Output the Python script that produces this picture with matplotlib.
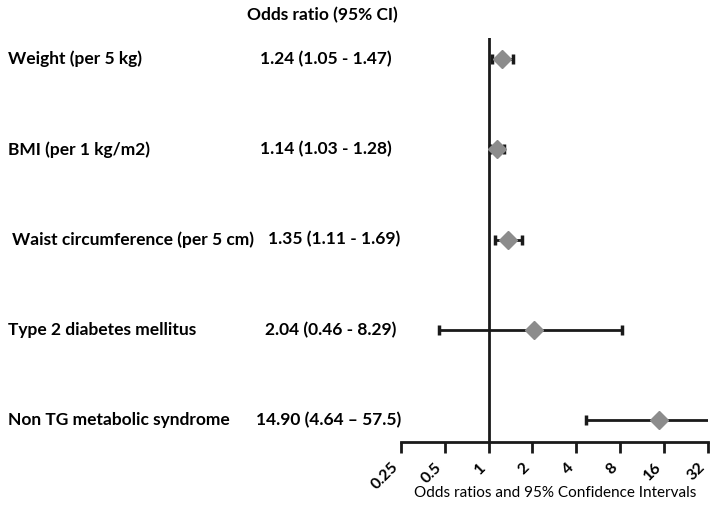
import matplotlib
matplotlib.use("Agg")
import matplotlib.pyplot as plt
import matplotlib.transforms as mtransforms
import numpy as np

plt.rcParams['font.family'] = ['Lato', 'DejaVu Sans']

# forest plot data
labels = ["Weight (per 5 kg)", "BMI (per 1 kg/m2)", "Waist circumference (per 5 cm)",
          "Type 2 diabetes mellitus", "Non TG metabolic syndrome"]
or_text = ["1.24 (1.05 - 1.47)", "1.14 (1.03 - 1.28)", "1.35 (1.11 - 1.69)",
           "2.04 (0.46 - 8.29)", "14.90 (4.64 \u2013 57.5)"]
odds = [1.24, 1.14, 1.35, 2.04, 14.90]
lower = [1.05, 1.03, 1.11, 0.46, 4.64]
upper = [1.47, 1.28, 1.69, 8.29, 57.5]
ticks = [0.25, 0.5, 1, 2, 4, 8, 16, 32]
tick_labels = ["0.25", "0.5", "1", "2", "4", "8", "16", "32"]

W, H = 712, 513
fig = plt.figure(figsize=(W / 100, H / 100), dpi=100)
ax = fig.add_axes([0.563, 0.138, 0.431, 0.788])

ypos = np.arange(len(labels), 0, -1)
xmax = 32

for i in range(len(labels)):
    lo, hi = lower[i], upper[i]
    hi_clip = min(hi, xmax)
    ax.plot([lo, hi_clip], [ypos[i], ypos[i]], color='#1a1a1a', lw=2, zorder=2,
            solid_capstyle='butt')
    ax.plot([lo], [ypos[i]], marker='|', color='#1a1a1a', ms=7, mew=2.5, zorder=2)
    if hi <= xmax:
        ax.plot([hi], [ypos[i]], marker='|', color='#1a1a1a', ms=7, mew=2.5, zorder=2)
    ax.plot([odds[i]], [ypos[i]], marker='D', color='#8c8c8c', ms=9, mec='#8c8c8c', zorder=3)

ax.axvline(1, color='#1a1a1a', lw=2, zorder=1)

ax.set_xscale('log', base=2)
ax.set_xlim(0.25, 32)
ax.set_ylim(0.756, 5.233)
ax.set_xticks(ticks)
ax.set_xticklabels(tick_labels, rotation=45, ha='right', va='top',
                   fontsize=11.5, fontweight='bold')
ax.minorticks_off()
ax.set_yticks([])
for s in ['left', 'top', 'right']:
    ax.spines[s].set_visible(False)
ax.spines['bottom'].set_linewidth(2)
ax.spines['bottom'].set_color('#1a1a1a')
ax.tick_params(axis='x', length=8, width=2, color='#1a1a1a', pad=5)

# x label placed by hand, the rotated ticks push it too far down otherwise
fig.text(555 / W, 1 - 493 / H, "Odds ratios and 95% Confidence Intervals",
         ha='center', va='center', fontsize=11)

# left text columns, x in figure pixels, y in data
trans = mtransforms.blended_transform_factory(fig.transFigure, ax.transData)
label_x = [8, 8, 12, 8, 8]
value_x = [326, 326, 334, 331, 329]
for i in range(len(labels)):
    ax.text(label_x[i] / W, ypos[i], labels[i], transform=trans,
            ha='left', va='center', fontsize=12.5, fontweight='bold')
    ax.text(value_x[i] / W, ypos[i], or_text[i], transform=trans,
            ha='center', va='center', fontsize=12.5, fontweight='bold')

fig.text(322 / W, 1 - 15 / H, "Odds ratio (95% CI)", ha='center', va='center',
         fontsize=12.5, fontweight='bold')

fig.savefig("out.png", dpi=100)
